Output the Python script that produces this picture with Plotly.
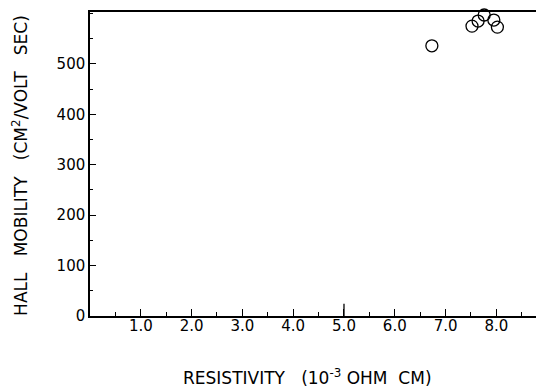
import plotly.graph_objects as go

resistivity = [6.73, 7.52, 7.64, 7.76, 7.95, 8.02]
mobility = [536, 575, 585, 597, 587, 573]

x_tickvals = [1, 2, 3, 4, 5, 6, 7, 8]
x_ticktext = ["1.0", "2.0", "3.0", "4.0", "5.0", "6.0", "7.0", "8.0"]
y_tickvals = [0, 100, 200, 300, 400, 500]
y_ticktext = ["0", "100", "200", "300", "400", "500"]

FONT = "DejaVu Sans"
NB = "\u00a0"

y_title = f"HALL{NB*3}MOBILITY{NB*3}(CM<sup>2</sup>/VOLT{NB*3}SEC)"
x_title = f"RESISTIVITY{NB*3}(10<sup>-3</sup>{NB}OHM{NB*2}CM)"

fig = go.Figure()
fig.add_trace(go.Scatter(
    x=resistivity, y=mobility, mode="markers",
    marker=dict(symbol="circle-open", size=12, color="black", line=dict(width=1.3, color="black")),
    cliponaxis=False, showlegend=False, hoverinfo="skip",
))

fig.update_layout(
    width=536, height=387,
    margin=dict(l=90, r=0, t=12, b=71),
    paper_bgcolor="white", plot_bgcolor="white",
    font=dict(family=FONT, color="black", size=15),
    xaxis=dict(
        range=[0, 8.78], showgrid=False, zeroline=False,
        showline=True, linecolor="black", linewidth=1.5, mirror=True,
        ticks="inside", ticklen=7, tickwidth=1.3, tickcolor="black",
        tickvals=x_tickvals, ticktext=x_ticktext,
        minor=dict(ticks="inside", ticklen=4, tickwidth=1.2, tickcolor="black", dtick=0.5, tick0=0),
        tickfont=dict(size=15, family=FONT),
        ticklabelstandoff=-5,
    ),
    yaxis=dict(
        range=[0, 603], showgrid=False, zeroline=False,
        showline=True, linecolor="black", linewidth=1.5,
        ticks="inside", ticklen=6, tickwidth=1.2, tickcolor="black",
        tickvals=y_tickvals, ticktext=y_ticktext,
        minor=dict(ticks="inside", ticklen=3, tickwidth=1.2, tickcolor="black", dtick=50, tick0=0),
        tickfont=dict(size=15, family=FONT),
    ),
    annotations=[
        dict(text=y_title, xref="paper", yref="paper",
             x=-0.157, y=0.497, textangle=-90, showarrow=False, xanchor="center", yanchor="middle",
             font=dict(size=17, family=FONT)),
        dict(text=x_title, xref="paper", yref="paper",
             x=0.487, y=-0.200, showarrow=False, xanchor="center", yanchor="middle",
             font=dict(size=17, family=FONT)),
    ],
    shapes=[
        dict(type="line", xref="x", yref="paper", x0=5, x1=5, y0=0, y1=0.04,
             line=dict(color="black", width=1.3)),
    ],
)

fig.write_html("out.html", config={"displayModeBar": False},
               post_script="document.body.style.margin='0';document.body.style.overflow='hidden';")
